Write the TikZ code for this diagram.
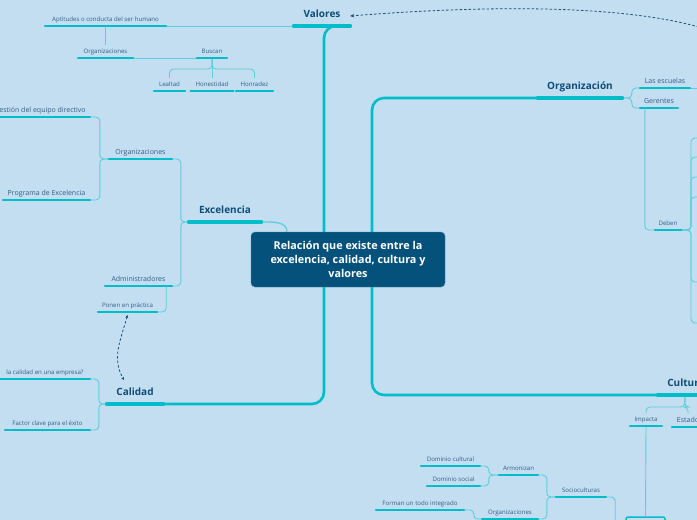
\documentclass[tikz,border=0pt]{standalone}
\usepackage{fontspec}
\setmainfont{Open Sans}
\usetikzlibrary{arrows.meta,positioning}

\definecolor{mapbg}{HTML}{C3DEF0}
\definecolor{barcol}{HTML}{00BDCA}
\definecolor{linkcol}{HTML}{5CCEDC}
\definecolor{labelcol}{HTML}{2F5E88}
\definecolor{topiccol}{HTML}{0D4D78}
\definecolor{rootcol}{HTML}{04527C}
\definecolor{relcol}{HTML}{1C4F78}

\begin{document}
\begin{tikzpicture}[x=1pt, y=-1pt,
    lbl/.style={anchor=south, inner xsep=0pt, text depth=0pt, text=labelcol},
    small/.style={lbl, inner ysep=4pt, font=\fontsize{6.1}{7}\selectfont},
    medium/.style={lbl, inner ysep=4pt, font=\fontsize{7}{8}\selectfont},
    topic/.style={lbl, inner ysep=8pt, text=topiccol, font=\fontsize{10}{11}\selectfont\bfseries},
    rootbox/.style={draw=rootcol!70!white, fill=rootcol, rounded corners=4pt, minimum width=194pt, minimum height=55pt, align=center, text=white, font=\fontsize{10.8}{14}\selectfont\bfseries},
    bar/.style={barcol, line width=2pt, line cap=round},
    link/.style={linkcol, line width=0.9pt, rounded corners=4pt},
    trunk/.style={barcol, line width=2.6pt, rounded corners=12pt},
    relation/.style={relcol, line width=0.8pt, dash pattern=on 2.5pt off 2pt},
]
\path[use as bounding box] (0,0) rectangle (697,520);
\fill[mapbg] (0,0) rectangle (697,520);
\clip (0,0) rectangle (697,520);

% central idea
\node[rootbox] (root) at (348,259.5) {Relación que existe entre la\\excelencia, calidad, cultura y\\valores};

% main topics
\node[topic, minimum width=56pt] (valores) at (322,26) {Valores};
\node[topic, minimum width=72pt] (excelencia) at (225,222) {Excelencia};
\node[topic, minimum width=56pt] (calidad) at (135,404) {Calidad};
\node[topic, minimum width=84pt] (organizacion) at (580,98) {Organización};
\node[topic, minimum width=56pt] (cultura) at (686,395) {Cultura};

% valores
\node[small, minimum width=121pt] (aptitudes) at (105.5,26) {Aptitudes o conducta del ser humano};
\node[small, minimum width=55pt] (orgV) at (105.5,58) {Organizaciones};
\node[small, minimum width=30pt] (buscan) at (212,58) {Buscan};
\node[small, minimum width=31pt] (lealtad) at (169.5,91) {Lealtad};
\node[small, minimum width=43pt] (honestidad) at (212,91) {Honestidad};
\node[small, minimum width=37pt] (honradez) at (254.5,91) {Honradez};

% excelencia
\node[medium, minimum width=63pt] (orgE) at (140.5,159) {Organizaciones};
\node[medium, minimum width=67pt] (admin) at (138.5,286) {Administradores};
\node[medium, minimum width=100pt] (gestion) at (40,117) {Gestión del equipo directivo};
\node[medium, minimum width=87pt] (programa) at (46.5,200) {Programa de Excelencia};
\node[small, minimum width=59pt] (ponen) at (127.5,312) {Ponen en práctica};

% calidad
\node[small, minimum width=90pt] (pregunta) at (45,379) {la calidad en una empresa?};
\node[small, minimum width=85pt] (factor) at (47.5,430) {Factor clave para el éxito};

% organizacion
\node[medium, minimum width=50pt] (escuelas) at (665,88) {Las escuelas};
\node[medium, minimum width=38pt] (gerentes) at (659,108) {Gerentes};
\node[small, minimum width=26pt] (deben) at (668,230) {Deben};
\coordinate (escuelasnext) at (705,88);
\coordinate (d1) at (702,138);
\coordinate (d2) at (702,157);
\coordinate (d3) at (702,177);
\coordinate (d4) at (702,197);
\coordinate (d5) at (702,282);
\coordinate (d6) at (702,323);

% cultura
\node[small, minimum width=32pt] (impacta) at (646,426) {Impacta};
\node[medium, minimum width=32pt] (estado) at (688,427) {Estado};
\node[draw=barcol, line width=1.5pt, rounded corners=2pt, minimum width=39pt, minimum height=40pt] (impactanext) at (645.5,537) {};
\node[small, minimum width=50pt] (socio) at (581,497) {Socioculturas};
\node[small, minimum width=39pt] (armon) at (518.5,475) {Armonizan};
\node[small, minimum width=56pt] (orgC) at (510,519) {Organizaciones};
\node[small, minimum width=59pt] (domcult) at (450.5,466) {Dominio cultural};
\node[small, minimum width=53pt] (domsoc) at (453.5,486) {Dominio social};
\node[small, minimum width=88pt] (forman) at (420,510) {Forman un todo integrado};

% trunks
\draw[trunk] ([xshift=-24pt]root.north) |- (valores.south east);
\draw[trunk] ([xshift=-24pt]root.south) |- (calidad.south east);
\draw[trunk] ([xshift=24pt]root.north) |- (organizacion.south west);
\draw[trunk] ([xshift=24pt]root.south) |- (cultura.south west);
\draw[link, line width=1.3pt] ([xshift=-61pt]root.north) to[out=90,in=0] (excelencia.south east);

% branches
\draw[link] (aptitudes.south east) -- (valores.south west);
\draw[link] (aptitudes.south) -- (orgV.north);
\draw[link] (orgV.south east) -- (buscan.south west);
\foreach \n in {lealtad,honradez}
  \draw[link] (buscan.south) -- ++(0,11) -| (\n.north);
\draw[link] (buscan.south) -- (honestidad.north);

\foreach \n in {orgE,admin}
  \draw[link] (\n.south east) -| ([xshift=-8pt]excelencia.south west) -- (excelencia.south west);
\foreach \n in {gestion,programa}
  \draw[link] (\n.south east) -| ([xshift=-9pt]orgE.south west) -- (orgE.south west);
\draw[link] ([xshift=-6pt]admin.south east) |- (ponen.south east);

\foreach \n in {pregunta,factor}
  \draw[link] (\n.south east) -| ([xshift=-8pt]calidad.south west) -- (calidad.south west);

\foreach \n in {escuelas,gerentes}
  \draw[link] (organizacion.south east) -| ([xshift=-8pt]\n.south west) -- (\n.south west);
\draw[link] (escuelas.south east) -- (escuelasnext);
\draw[link] ([xshift=5pt]gerentes.south west) |- (deben.south west);
\foreach \i in {1,...,6}
  \draw[link] (deben.south east) -| ([xshift=-11pt]d\i) -- (d\i);

\foreach \n in {impacta,estado}
  \draw[link] ([xshift=27pt]cultura.south west) -- ++(0,12) -| (\n.north);
\draw[link] (impacta.south) -- (impactanext.north);
\draw[link] (socio.south east) -- ++(9,0) |- (impactanext.west);
\foreach \n in {armon,orgC}
  \draw[link] (\n.south east) -| ([xshift=-9pt]socio.south west) -- (socio.south west);
\foreach \n in {domcult,domsoc}
  \draw[link] (\n.south east) -| ([xshift=-10pt]armon.south west) -- (armon.south west);
\draw[link] (forman.south east) -| ([xshift=-8pt]orgC.south west) -- (orgC.south west);

% relations
\draw[relation, {Stealth[length=3pt,width=3pt]}-{Stealth[length=3pt,width=3pt]}] ([yshift=-3pt]ponen.south) to[out=-105,in=120] ([xshift=-11pt]calidad.north);
\coordinate (vfar) at (712,31);
\draw[relation, -{Stealth[length=4pt,width=3.5pt]}] (vfar) .. controls (620,0) and (450,8) .. ([yshift=-2pt]valores.east);

% underlines
\foreach \n in {aptitudes,orgV,buscan,lealtad,honestidad,honradez,orgE,admin,gestion,programa,ponen,pregunta,factor,escuelas,gerentes,deben,impacta,estado,socio,armon,orgC,domcult,domsoc,forman}
  \draw[bar] (\n.south west) -- (\n.south east);
\foreach \n in {valores,excelencia,calidad,organizacion,cultura}
  \draw[bar, line width=4pt] (\n.south west) -- (\n.south east);
\end{tikzpicture}
\end{document}
